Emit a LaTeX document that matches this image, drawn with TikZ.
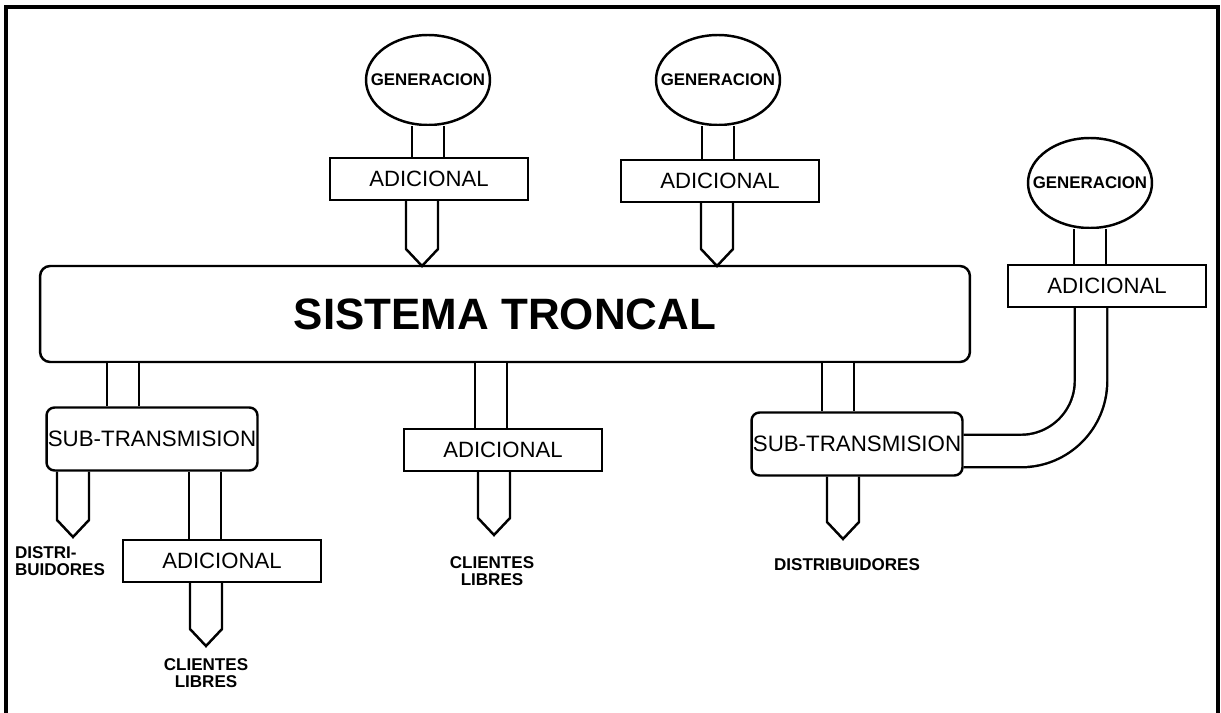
\documentclass[tikz,border=0pt]{standalone}
\usepackage{fontspec}
\setmainfont{Liberation Sans}
\usetikzlibrary{shapes.geometric,calc}

\tikzset{
  gen/.style={draw, ellipse, line width=1.4pt, minimum width=2.48cm, minimum height=1.8cm, inner sep=0pt, font=\fontsize{9.6}{11}\selectfont\bfseries},
  adic/.style={draw, rectangle, line width=1.4pt, minimum width=3.96cm, minimum height=0.84cm, font=\fontsize{12.6}{15}\selectfont},
  subtx/.style={draw, rounded corners=0.16cm, line width=1.4pt, minimum width=4.22cm, minimum height=1.26cm, inner sep=0pt, font=\fontsize{12.7}{15}\selectfont},
  troncal/.style={draw, rounded corners=0.2cm, line width=1.4pt, minimum width=18.6cm, minimum height=1.92cm, font=\fontsize{25}{30}\selectfont\bfseries},
  stem/.style={line width=1.4pt, double, double distance=0.6cm},
  pipeline/.style={line width=1.4pt, line join=miter},
  endlabel/.style={align=center, font=\fontsize{9.7}{9.5}\selectfont\bfseries},
  frame/.style={line width=2.2pt}
}

% pipe with a pointed end: #1 anchor it leaves, #2 tip
\newcommand{\feeder}[2]{%
  \draw[pipeline] ($(#2 |- #1)+(-16,0)$) -- ($(#2)+(-16,-17)$) -- (#2)
    -- ($(#2)+(16,-17)$) -- ($(#2 |- #1)+(16,0)$);}
% text that may touch the ellipse
\newcommand{\gentext}{\makebox[0pt]{GENERACION}}

\begin{document}
\begin{tikzpicture}[x=0.02cm,y=-0.02cm]
  \useasboundingbox (0,0) rectangle (1221,713);
  \draw[frame] (6,713) -- (6,7) -- (1218,7) -- (1218,713);

  % generation and trunk
  \node[gen] (g1) at (428,80) {\gentext};
  \node[gen] (g2) at (718,80) {\gentext};
  \node[gen] (g3) at (1090,183) {\gentext};
  \node[adic] (a1) at (429,179) {ADICIONAL};
  \node[adic] (a2) at (720,181) {ADICIONAL};
  \node[adic] (a3) at (1107,286) {ADICIONAL};
  \node[troncal] (tr) at (505,314) {SISTEMA TRONCAL};

  % lower part
  \node[subtx] (s1) at (152,439) {SUB-TRANSMISION};
  \node[subtx] (s2) at (857,444) {SUB-TRANSMISION};
  \node[adic] (a4) at (222,561) {ADICIONAL};
  \node[adic] (a5) at (503,450) {ADICIONAL};
  \node[endlabel, align=left] (d1) at (60,561) {DISTRI-\\BUIDORES};
  \node[endlabel] (c1) at (206,673) {CLIENTES\\LIBRES};
  \node[endlabel] (c2) at (492,571) {CLIENTES\\LIBRES};
  \node[endlabel] (d2) at (847,565) {DISTRIBUIDORES};

  % straight pipes
  \coordinate (k1) at (123,0);
  \coordinate (k2) at (491,0);
  \coordinate (k3) at (838,0);
  \coordinate (k4) at (205,0);
  \draw[stem] (g1.south) -- (g1.south |- a1.north);
  \draw[stem] (g2.south) -- (g2.south |- a2.north);
  \draw[stem] (g3.south) -- (g3.south |- a3.north);
  \draw[stem] (k1 |- tr.south) -- (k1 |- s1.north);
  \draw[stem] (k2 |- tr.south) -- (k2 |- a5.north);
  \draw[stem] (k3 |- tr.south) -- (k3 |- s2.north);
  \draw[stem] (k4 |- s1.south) -- (k4 |- a4.north);
  \draw[stem, rounded corners=1.4cm] ($(a3.south)+(-16,0)$) |- ($(s2.east)+(0,7)$);

  % pointed pipes
  \coordinate (t1) at (422,266);
  \coordinate (t2) at (717,266);
  \coordinate (t3) at (73,537);
  \coordinate (t4) at (206,646);
  \coordinate (t5) at (494,535);
  \coordinate (t6) at (843,539);
  \feeder{a1.south}{t1}
  \feeder{a2.south}{t2}
  \feeder{s1.south}{t3}
  \feeder{a4.south}{t4}
  \feeder{a5.south}{t5}
  \feeder{s2.south}{t6}
\end{tikzpicture}
\end{document}
